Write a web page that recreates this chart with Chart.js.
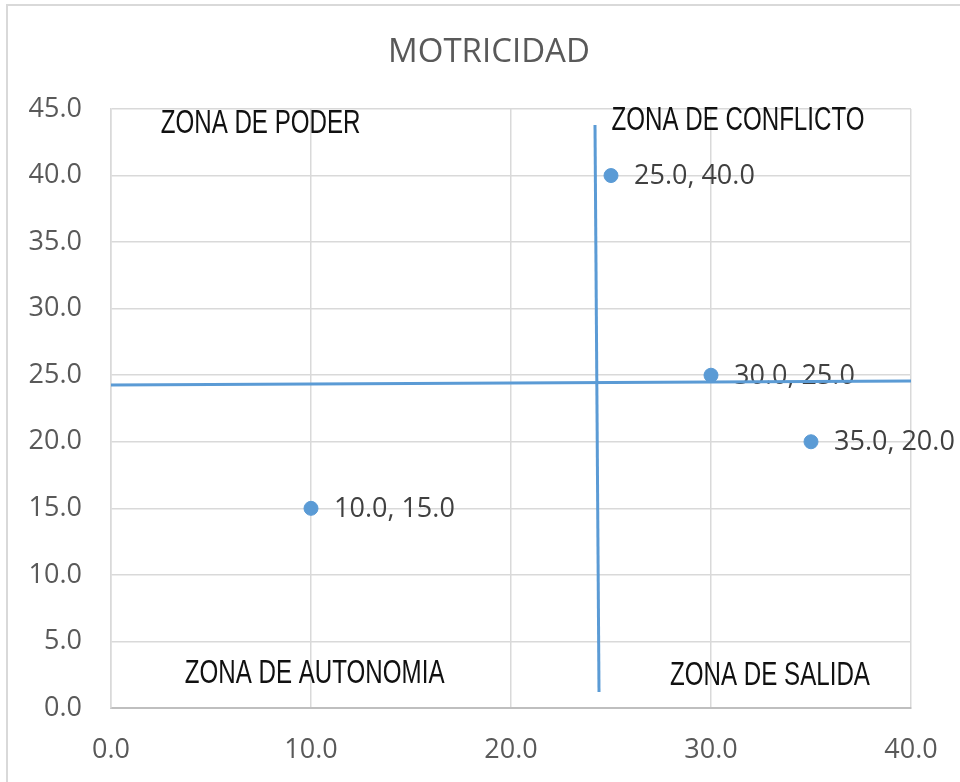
<!DOCTYPE html>
<html>
<head>
  <meta charset="UTF-8">
  <title>MOTRICIDAD</title>
  <script src="https://cdn.jsdelivr.net/npm/chart.js"></script>
  <style>
    body { margin: 0; background: #fff; }
    #wrap { position: relative; width: 960px; height: 782px; overflow: hidden; }
    #frame { position: absolute; left: 6px; top: 4px; width: 1000px; height: 1000px;
             border: 2px solid #d9d9d9; pointer-events: none; }
  </style>
</head>
<body>
<div id="wrap">
  <canvas id="chart" width="960" height="782"></canvas>
  <div id="frame"></div>
</div>
<script>
// points
var xValues = [10, 25, 30, 35];
var yValues = [15, 40, 25, 20];

// quadrant lines
var vLineX = [24.2, 24.4];
var vLineY = [43.8, 1.2];
var hLineX = [0, 40];
var hLineY = [24.27, 24.57];

// zone captions
var zoneNames = ['ZONA DE PODER', 'ZONA DE CONFLICTO', 'ZONA DE AUTONOMIA', 'ZONA DE SALIDA'];
var zoneX = [7.48, 31.35, 10.18, 32.95];
var zoneY = [43.99, 44.21, 2.63, 2.48];

var blue = '#5b9bd5';

function pairs(xs, ys) {
  return xs.map(function (x, i) { return { x: x, y: ys[i] }; });
}

var annotate = {
  id: 'annotate',
  beforeDatasetsDraw: function (chart) {
    var ctx = chart.ctx;
    var xs = chart.scales.x, ys = chart.scales.y;
    ctx.save();
    ctx.font = '27px "Open Sans"';
    ctx.fillStyle = '#404040';
    ctx.textAlign = 'left';
    ctx.textBaseline = 'middle';
    for (var i = 0; i < xValues.length; i++) {
      var px = xs.getPixelForValue(xValues[i]);
      var py = ys.getPixelForValue(yValues[i]);
      ctx.fillText(xValues[i].toFixed(1) + ', ' + yValues[i].toFixed(1), px + 23, py + 1);
    }
    ctx.restore();
  },
  afterDatasetsDraw: function (chart) {
    var ctx = chart.ctx;
    var xs = chart.scales.x, ys = chart.scales.y;
    ctx.save();
    ctx.font = '34px "Liberation Sans"';
    ctx.fillStyle = '#111';
    ctx.textAlign = 'center';
    ctx.textBaseline = 'middle';
    for (var i = 0; i < zoneNames.length; i++) {
      ctx.save();
      ctx.translate(xs.getPixelForValue(zoneX[i]), ys.getPixelForValue(zoneY[i]) + 1);
      ctx.scale(0.71, 1);
      ctx.fillText(zoneNames[i], 0, 0);
      ctx.restore();
    }
    ctx.restore();
  }
};

Chart.defaults.font.family = '"Open Sans"';

var ctx = document.getElementById('chart').getContext('2d');
var chart = new Chart(ctx, {
  type: 'scatter',
  data: {
    datasets: [
      {
        label: 'hLine',
        data: pairs(hLineX, hLineY),
        showLine: true,
        borderColor: blue,
        borderWidth: 3,
        pointRadius: 0,
        clip: false,
        order: 1
      },
      {
        label: 'vLine',
        data: pairs(vLineX, vLineY),
        showLine: true,
        borderColor: blue,
        borderWidth: 3,
        pointRadius: 0,
        order: 1
      },
      {
        label: 'Motricidad',
        data: pairs(xValues, yValues),
        backgroundColor: blue,
        borderColor: blue,
        pointRadius: 7,
        pointHoverRadius: 7,
        order: 2
      }
    ]
  },
  options: {
    responsive: false,
    animation: false,
    layout: { padding: { left: 18, right: 0, top: 0, bottom: 0 } },
    plugins: {
      legend: { display: false },
      tooltip: { enabled: false },
      title: {
        display: true,
        text: 'MOTRICIDAD',
        color: '#595959',
        font: { size: 33, weight: 'normal' },
        padding: { top: 33, bottom: 36.4 }
      }
    },
    scales: {
      x: {
        type: 'linear',
        min: 0,
        max: 40,
        afterFit: function (scale) {
          scale.height = 74;
          scale.paddingLeft = 0;
          scale.paddingRight = 49;
        },
        ticks: {
          stepSize: 10,
          color: '#595959',
          font: { size: 27 },
          padding: 26,
          callback: function (v) { return v.toFixed(1); }
        },
        grid: { color: '#d9d9d9', lineWidth: 1.5, drawTicks: false },
        border: { color: '#bfbfbf', width: 2 }
      },
      y: {
        min: 0,
        max: 45,
        afterFit: function (scale) { scale.width = 93; },
        ticks: {
          stepSize: 5,
          color: '#595959',
          font: { size: 27 },
          padding: 29,
          callback: function (v) { return v.toFixed(1); }
        },
        grid: { color: '#d9d9d9', lineWidth: 1.5, drawTicks: false },
        border: { color: '#d9d9d9', width: 1.5 }
      }
    }
  },
  plugins: [annotate]
});
</script>
</body>
</html>
